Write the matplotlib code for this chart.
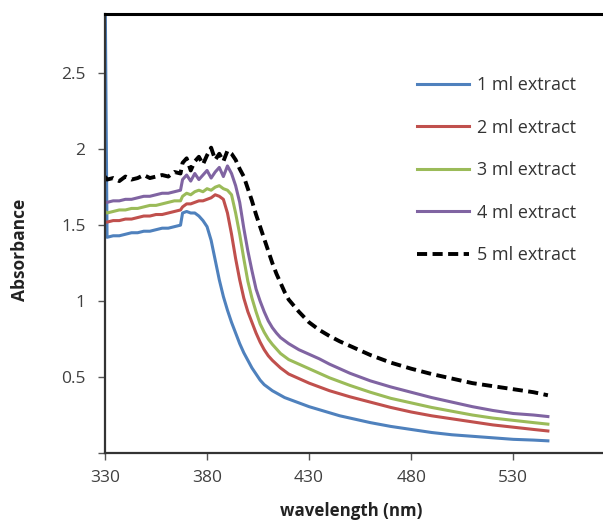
import matplotlib
matplotlib.use("Agg")
import matplotlib.pyplot as plt

# UV-vis absorbance spectra for increasing volumes of plant extract
wavelength = [
    330, 331, 334, 337, 340, 343, 346, 349, 352, 355, 358, 361, 364, 367, 368,
    370, 372, 374, 376, 378, 380, 382, 384, 386, 388, 390, 392, 394, 396, 398,
    400, 402, 404, 406, 408, 410, 412, 414, 416, 418, 420, 425, 430, 435, 440,
    445, 450, 460, 470, 480, 490, 500, 510, 520, 530, 540, 547,
]

abs_1ml = [
    3.20, 1.42, 1.43, 1.43, 1.44, 1.45, 1.45, 1.46, 1.46, 1.47, 1.48, 1.48, 1.49, 1.50, 1.58,
    1.59, 1.58, 1.58, 1.56, 1.53, 1.49, 1.40, 1.27, 1.14, 1.03, 0.94, 0.86, 0.79, 0.72, 0.66,
    0.61, 0.56, 0.52, 0.48, 0.45, 0.43, 0.41, 0.395, 0.38, 0.365, 0.355, 0.33, 0.305, 0.285, 0.265,
    0.245, 0.23, 0.20, 0.175, 0.155, 0.135, 0.12, 0.11, 0.10, 0.09, 0.085, 0.08,
]

abs_2ml = [
    1.52, 1.52, 1.53, 1.53, 1.54, 1.54, 1.55, 1.56, 1.56, 1.57, 1.57, 1.58, 1.59, 1.60, 1.62,
    1.64, 1.64, 1.65, 1.66, 1.66, 1.67, 1.68, 1.70, 1.69, 1.67, 1.58, 1.44, 1.28, 1.14, 1.02,
    0.93, 0.86, 0.79, 0.73, 0.68, 0.64, 0.61, 0.585, 0.56, 0.54, 0.52, 0.49, 0.46, 0.435, 0.41,
    0.39, 0.37, 0.335, 0.30, 0.27, 0.245, 0.225, 0.205, 0.185, 0.17, 0.155, 0.145,
]

abs_3ml = [
    1.59, 1.58, 1.59, 1.60, 1.60, 1.61, 1.61, 1.62, 1.63, 1.63, 1.64, 1.65, 1.66, 1.66, 1.69,
    1.71, 1.70, 1.72, 1.73, 1.72, 1.74, 1.73, 1.75, 1.76, 1.74, 1.73, 1.70, 1.58, 1.44, 1.28,
    1.13, 1.02, 0.93, 0.85, 0.795, 0.75, 0.715, 0.685, 0.655, 0.635, 0.615, 0.585, 0.555, 0.525, 0.495,
    0.47, 0.445, 0.40, 0.36, 0.33, 0.30, 0.275, 0.25, 0.23, 0.215, 0.20, 0.19,
]

abs_4ml = [
    1.65, 1.65, 1.66, 1.66, 1.67, 1.67, 1.68, 1.69, 1.69, 1.70, 1.71, 1.71, 1.72, 1.73, 1.80,
    1.83, 1.79, 1.84, 1.80, 1.83, 1.86, 1.81, 1.85, 1.88, 1.82, 1.89, 1.84, 1.76, 1.65, 1.48,
    1.33, 1.20, 1.08, 1.00, 0.93, 0.87, 0.825, 0.79, 0.76, 0.74, 0.72, 0.68, 0.65, 0.62, 0.585,
    0.555, 0.525, 0.475, 0.435, 0.40, 0.365, 0.335, 0.305, 0.28, 0.26, 0.25, 0.24,
]

abs_5ml = [
    1.82, 1.80, 1.81, 1.79, 1.82, 1.80, 1.81, 1.83, 1.81, 1.82, 1.83, 1.82, 1.85, 1.84, 1.91,
    1.94, 1.86, 1.92, 1.95, 1.90, 1.96, 2.01, 1.93, 1.97, 1.92, 1.99, 1.97, 1.93, 1.87, 1.82,
    1.74, 1.66, 1.57, 1.49, 1.41, 1.33, 1.25, 1.18, 1.12, 1.06, 1.01, 0.93, 0.86, 0.81, 0.77,
    0.735, 0.705, 0.645, 0.595, 0.555, 0.52, 0.49, 0.46, 0.44, 0.42, 0.40, 0.38,
]

labels = ["1 ml extract", "2 ml extract", "3 ml extract", "4 ml extract", "5 ml extract"]
x_ticks = [330, 380, 430, 480, 530]
y_ticks = [0, 0.5, 1, 1.5, 2, 2.5]
y_tick_labels = ["", "0.5", "1", "1.5", "2", "2.5"]

plt.rcParams["font.family"] = ["Open Sans", "DejaVu Sans"]

fig = plt.figure(figsize=(6.03, 5.25), dpi=100, facecolor="white")
ax = fig.add_axes([105 / 603, 72 / 525, 498 / 603, 439 / 525])

ax.plot(wavelength, abs_1ml, color="#4f81bd", lw=2.2, label=labels[0])
ax.plot(wavelength, abs_2ml, color="#c0504d", lw=2.2, label=labels[1])
ax.plot(wavelength, abs_3ml, color="#9bbb59", lw=2.2, label=labels[2])
ax.plot(wavelength, abs_4ml, color="#8064a2", lw=2.2, label=labels[3])
ax.plot(wavelength, abs_5ml, color="black", lw=2.8, dashes=(2.6, 1.4), label=labels[4])

ax.set_xlim(330, 574)
ax.set_ylim(0, 2.89)
ax.set_xticks(x_ticks)
ax.set_yticks(y_ticks)
ax.set_yticklabels(y_tick_labels)

ax.spines["right"].set_visible(False)
ax.spines["top"].set_linewidth(2.2)
ax.spines["top"].set_color("black")
for side in ("left", "bottom"):
    ax.spines[side].set_linewidth(1.6)
    ax.spines[side].set_color("#333333")

ax.tick_params(axis="both", direction="out", length=5, width=1.0, color="#555555",
               labelsize=12.5, labelcolor="#404040")
ax.tick_params(axis="y", pad=9)
ax.tick_params(axis="x", pad=7)

ax.set_ylabel("Absorbance", fontsize=12.5, fontweight="bold", color="#222222")
ax.yaxis.set_label_coords(-0.153, 0.462)
ax.set_xlabel("wavelength (nm)", fontsize=12.2, fontweight="bold", color="#222222")
ax.xaxis.set_label_coords(0.494, -0.112)

leg = ax.legend(loc="upper left", bbox_to_anchor=(417 / 603, 1 - 76 / 525),
                bbox_transform=fig.transFigure, frameon=False, fontsize=13,
                handlelength=2.9, handletextpad=0.45, labelspacing=1.36,
                borderpad=0, borderaxespad=0)
for txt in leg.get_texts():
    txt.set_color("#333333")

fig.savefig("out.png", dpi=100)
